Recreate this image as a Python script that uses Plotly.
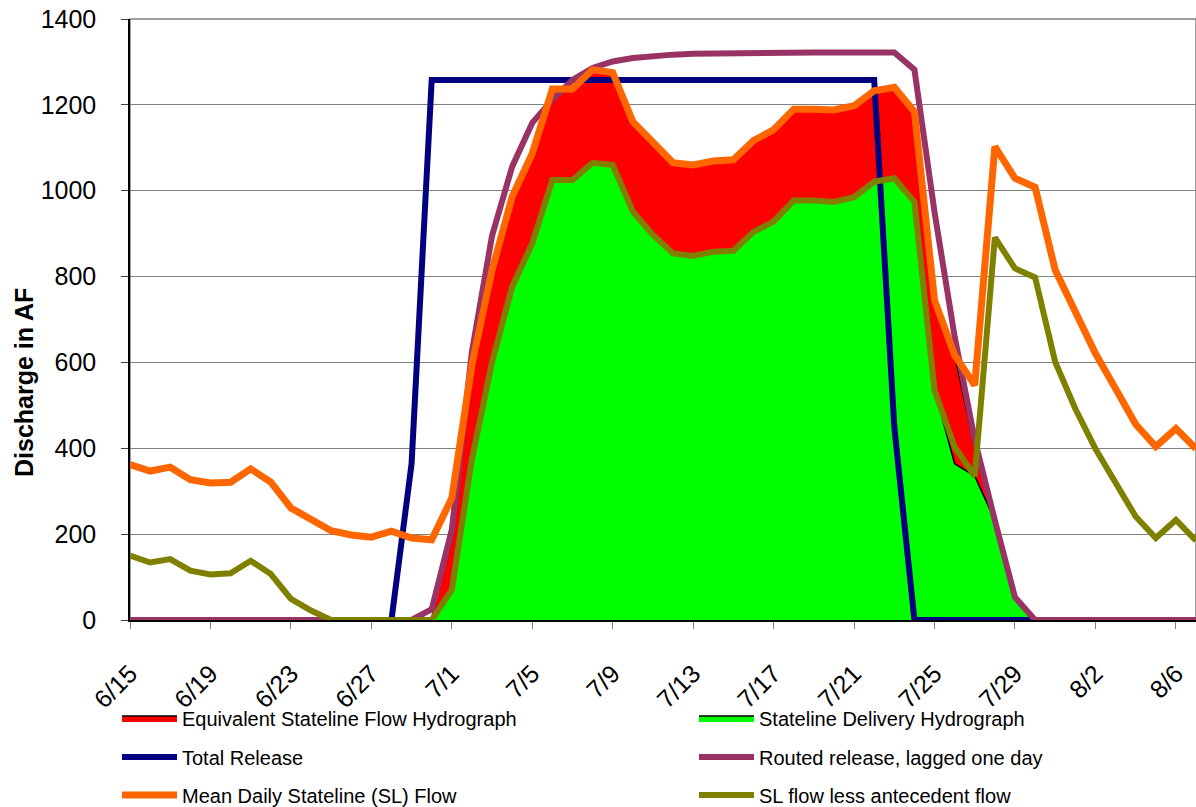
import pandas as pd
import plotly.graph_objects as go

# ---- data -------------------------------------------------------------
dates = pd.date_range("2005-06-15", "2005-08-07", freq="D")
N = None

total_release = [0, 0, 0, 0, 0, 0, 0, 0, 0, 0, 0, 0, 0, 0, 364,
                 1258, 1258, 1258, 1258, 1258, 1258, 1258, 1258, 1258, 1258,
                 1258, 1258, 1258, 1258, 1258, 1258, 1258, 1258, 1258, 1258,
                 1258, 1258, 1258, 450, 0, 0, 0, 0, 0, 0,
                 0, 0, 0, 0, 0, 0, 0, 0, 0]

routed_release = [0, 0, 0, 0, 0, 0, 0, 0, 0, 0, 0, 0, 0, 0, 0,
                  25, 210, 625, 895, 1056, 1158, 1212, 1258, 1286, 1301,
                  1309, 1314, 1317, 1319, 1320, 1321, 1322, 1322, 1322, 1322,
                  1322, 1322, 1322, 1322, 1282, 950, 660, 420, 232, 53,
                  0, 0, 0, 0, 0, 0, 0, 0, 0]

mean_daily_sl = [362, 347, 356, 327, 319, 321, 352, 321, 261, 236, 208, 198, 193, 207, 191,
                 187, 284, 595, 815, 986, 1087, 1237, 1237, 1282, 1275,
                 1161, 1110, 1065, 1060, 1069, 1072, 1117, 1142, 1190, 1190,
                 1188, 1198, 1233, 1241, 1184, 745, 617, 547, 1103, 1029,
                 1008, 815, 715, 621, 539, 456, 404, 446, 399]

sl_less_antecedent = [150, 134, 142, 115, 106, 109, 138, 107, 49, 22, 0, 0, 0, 0, 0,
                      0, 70, 375, 600, 776, 877, 1025, 1025, 1065, 1060,
                      951, 897, 854, 848, 858, 860, 904, 928, 977, 977,
                      974, 985, 1021, 1029, 974, 535, 403, 335, 891, 819,
                      798, 601, 492, 399, 317, 241, 191, 233, 185]

equivalent_sl = [N, N, N, N, N, N, N, N, N, N, N, N, N, N, N,
                 25, 210, 595, 815, 986, 1087, 1237, 1237, 1282, 1275,
                 1161, 1110, 1065, 1060, 1069, 1072, 1117, 1142, 1190, 1190,
                 1188, 1198, 1233, 1241, 1184, 745, 617, 400, 232, 53,
                 0, N, N, N, N, N, N, N, N]

stateline_delivery = [N, N, N, N, N, N, N, N, N, N, N, N, N, N, N,
                      0, 70, 375, 600, 776, 877, 1025, 1025, 1065, 1060,
                      951, 897, 854, 848, 858, 860, 904, 928, 977, 977,
                      974, 985, 1021, 1029, 974, 535, 364, 335, 232, 53,
                      0, N, N, N, N, N, N, N, N]

FONT = "Liberation Sans, Arial, sans-serif"

fig = go.Figure()

fig.add_trace(go.Scatter(x=dates, y=equivalent_sl, name="Equivalent Stateline Flow Hydrograph",
                         mode="lines", fill="tozeroy", fillcolor="#FF0000",
                         line=dict(color="black", width=1.5), legend="legend"))
fig.add_trace(go.Scatter(x=dates, y=stateline_delivery, name="Stateline Delivery Hydrograph",
                         mode="lines", fill="tozeroy", fillcolor="#00FF00",
                         line=dict(color="black", width=1.5), legend="legend2"))
fig.add_trace(go.Scatter(x=dates, y=total_release, name="Total Release", mode="lines",
                         line=dict(color="#000080", width=6), legend="legend3"))
fig.add_trace(go.Scatter(x=dates, y=routed_release, name="Routed release, lagged one day", mode="lines",
                         line=dict(color="#993366", width=6), legend="legend4"))
fig.add_trace(go.Scatter(x=dates, y=mean_daily_sl, name="Mean Daily Stateline (SL) Flow", mode="lines",
                         line=dict(color="#FF6600", width=7), legend="legend5"))
fig.add_trace(go.Scatter(x=dates, y=sl_less_antecedent, name="SL flow less antecedent flow", mode="lines",
                         line=dict(color="#808000", width=6), legend="legend6"))

leg_common = dict(orientation="h", xanchor="left", yanchor="middle", itemwidth=55,
                  font=dict(family=FONT, size=20, color="black"),
                  bgcolor="rgba(0,0,0,0)", borderwidth=0)

col1_x = (117 - 130) / 1066
col2_x = (694 - 130) / 1066
row_y = [(620 - 718) / 601, (620 - 757) / 601, (620 - 795) / 601]

fig.update_layout(
    width=1196, height=807, autosize=False,
    margin=dict(l=130, r=0, t=19, b=187, autoexpand=False),
    paper_bgcolor="white", plot_bgcolor="white",
    font=dict(family=FONT, color="black"),
    showlegend=True,
    legend=dict(x=col1_x, y=row_y[0], **leg_common),
    legend2=dict(x=col2_x, y=row_y[0], **leg_common),
    legend3=dict(x=col1_x, y=row_y[1], **leg_common),
    legend4=dict(x=col2_x, y=row_y[1], **leg_common),
    legend5=dict(x=col1_x, y=row_y[2], **leg_common),
    legend6=dict(x=col2_x, y=row_y[2], **leg_common),
    xaxis=dict(
        type="date", automargin=False,
        range=["2005-06-15", "2005-08-07"],
        tick0="2005-06-15", dtick=4 * 86400000, tickformat="%-m/%-d",
        tickangle=-45, tickfont=dict(family=FONT, size=25, color="black"),
        ticks="outside", ticklen=7, tickcolor="#808080",
        showgrid=False, zeroline=False,
        showline=True, linecolor="black", linewidth=2,
        ticklabelstandoff=20,
    ),
    yaxis=dict(
        automargin=False,
        range=[0, 1400], dtick=200, tick0=0,
        tickfont=dict(family=FONT, size=25, color="black"),
        ticks="outside", ticklen=7, tickcolor="#404040",
        showgrid=True, gridcolor="#808080", gridwidth=1,
        zeroline=False,
        showline=True, linecolor="black", linewidth=1.5,
        ticklabelstandoff=20,
    ),
    shapes=[dict(type="rect", xref="paper", yref="paper", x0=0, x1=1, y0=0, y1=1,
                 line=dict(color="#808080", width=1.5), layer="below")],
    annotations=[dict(text="<b>Discharge in AF</b>", textangle=-90,
                      xref="paper", yref="paper", x=(24 - 130) / 1066, y=(620 - 383) / 601,
                      xanchor="center", yanchor="middle", showarrow=False,
                      font=dict(family=FONT, size=25, color="black"))],
)

fig.write_html("out.html", config={"displayModeBar": False},
               post_script="document.body.style.margin='0';document.body.style.overflow='hidden';")
